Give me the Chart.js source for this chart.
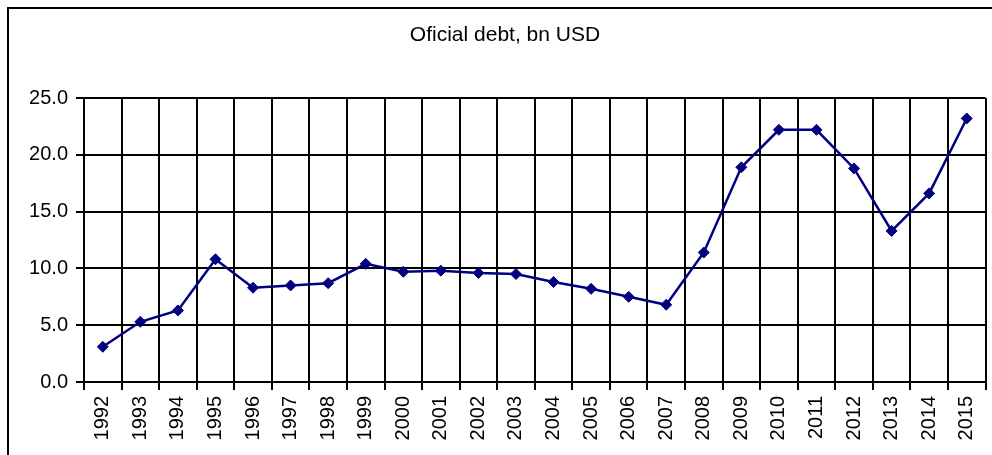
<!DOCTYPE html>
<html>
<head>
<meta charset="utf-8">
<script src="https://cdn.jsdelivr.net/npm/chart.js@4/dist/chart.umd.min.js"></script>
<style>
  html, body { margin: 0; padding: 0; background: #fff; overflow: hidden; }
  #frame {
    position: absolute; left: 7px; top: 7px; width: 992px; height: 460px;
    border-left: 2px solid #000; border-top: 2px solid #000; pointer-events: none;
  }
  #chart { position: absolute; left: 0; top: 0; }
</style>
</head>
<body>
<canvas id="chart" width="992" height="455"></canvas>
<div id="frame"></div>
<script>
// data
const TITLE = 'Oficial debt, bn USD';
const YEARS = ['1992','1993','1994','1995','1996','1997','1998','1999','2000','2001','2002','2003',
               '2004','2005','2006','2007','2008','2009','2010','2011','2012','2013','2014','2015'];
const DEBT = [3.1, 5.3, 6.3, 10.8, 8.3, 8.5, 8.7, 10.4, 9.7, 9.8, 9.6, 9.5,
              8.8, 8.2, 7.5, 6.8, 11.4, 18.9, 22.2, 22.2, 18.8, 13.3, 16.6, 23.2];
const Y_MIN = 0, Y_MAX = 25, Y_STEP = 5;

const FONT = "'Liberation Sans', Arial, sans-serif";
const NAVY = '#000080';

// title sits off-centre relative to the plot (chart was cropped on the right)
const titlePlugin = {
  id: 'offTitle',
  afterDraw(chart) {
    const ctx = chart.ctx;
    ctx.save();
    ctx.fillStyle = '#000';
    ctx.font = '21px ' + FONT;
    ctx.textAlign = 'center';
    ctx.textBaseline = 'alphabetic';
    ctx.fillText(TITLE, 505, 41);
    ctx.restore();
  }
};

new Chart(document.getElementById('chart'), {
  type: 'line',
  data: {
    labels: YEARS,
    datasets: [{
      data: DEBT,
      borderColor: NAVY,
      backgroundColor: NAVY,
      borderWidth: 2.5,
      pointStyle: 'rectRot',
      pointRadius: 5.5,
      pointBorderWidth: 1,
      pointBackgroundColor: NAVY,
      pointBorderColor: NAVY,
      tension: 0,
      fill: false
    }]
  },
  options: {
    responsive: false,
    animation: false,
    layout: { padding: { top: 98, right: 0, left: 0, bottom: 0 } },
    plugins: {
      legend: { display: false },
      tooltip: { enabled: false },
      title: { display: false }
    },
    scales: {
      x: {
        offset: true,
        grid: { offset: true, color: '#000', lineWidth: 2, tickLength: 8, tickColor: '#000' },
        border: { color: '#000', width: 2 },
        ticks: {
          color: '#000',
          font: { family: FONT, size: 20 },
          minRotation: 90, maxRotation: 90,
          padding: 6,
          autoSkip: false
        },
        afterFit(scale) {
          scale.height = 73;
          scale.paddingLeft = 0;
          scale.paddingRight = 0;
        }
      },
      y: {
        min: Y_MIN, max: Y_MAX,
        grid: { color: '#000', lineWidth: 2, tickLength: 8, tickColor: '#000' },
        border: { color: '#000', width: 2 },
        ticks: {
          stepSize: Y_STEP,
          color: '#000',
          font: { family: FONT, size: 20 },
          padding: 8,
          callback: v => v.toFixed(1)
        },
        afterFit(scale) {
          scale.width = 84;
          scale.paddingTop = 0;
          scale.paddingBottom = 0;
        }
      }
    }
  },
  plugins: [titlePlugin]
});
</script>
</body>
</html>
